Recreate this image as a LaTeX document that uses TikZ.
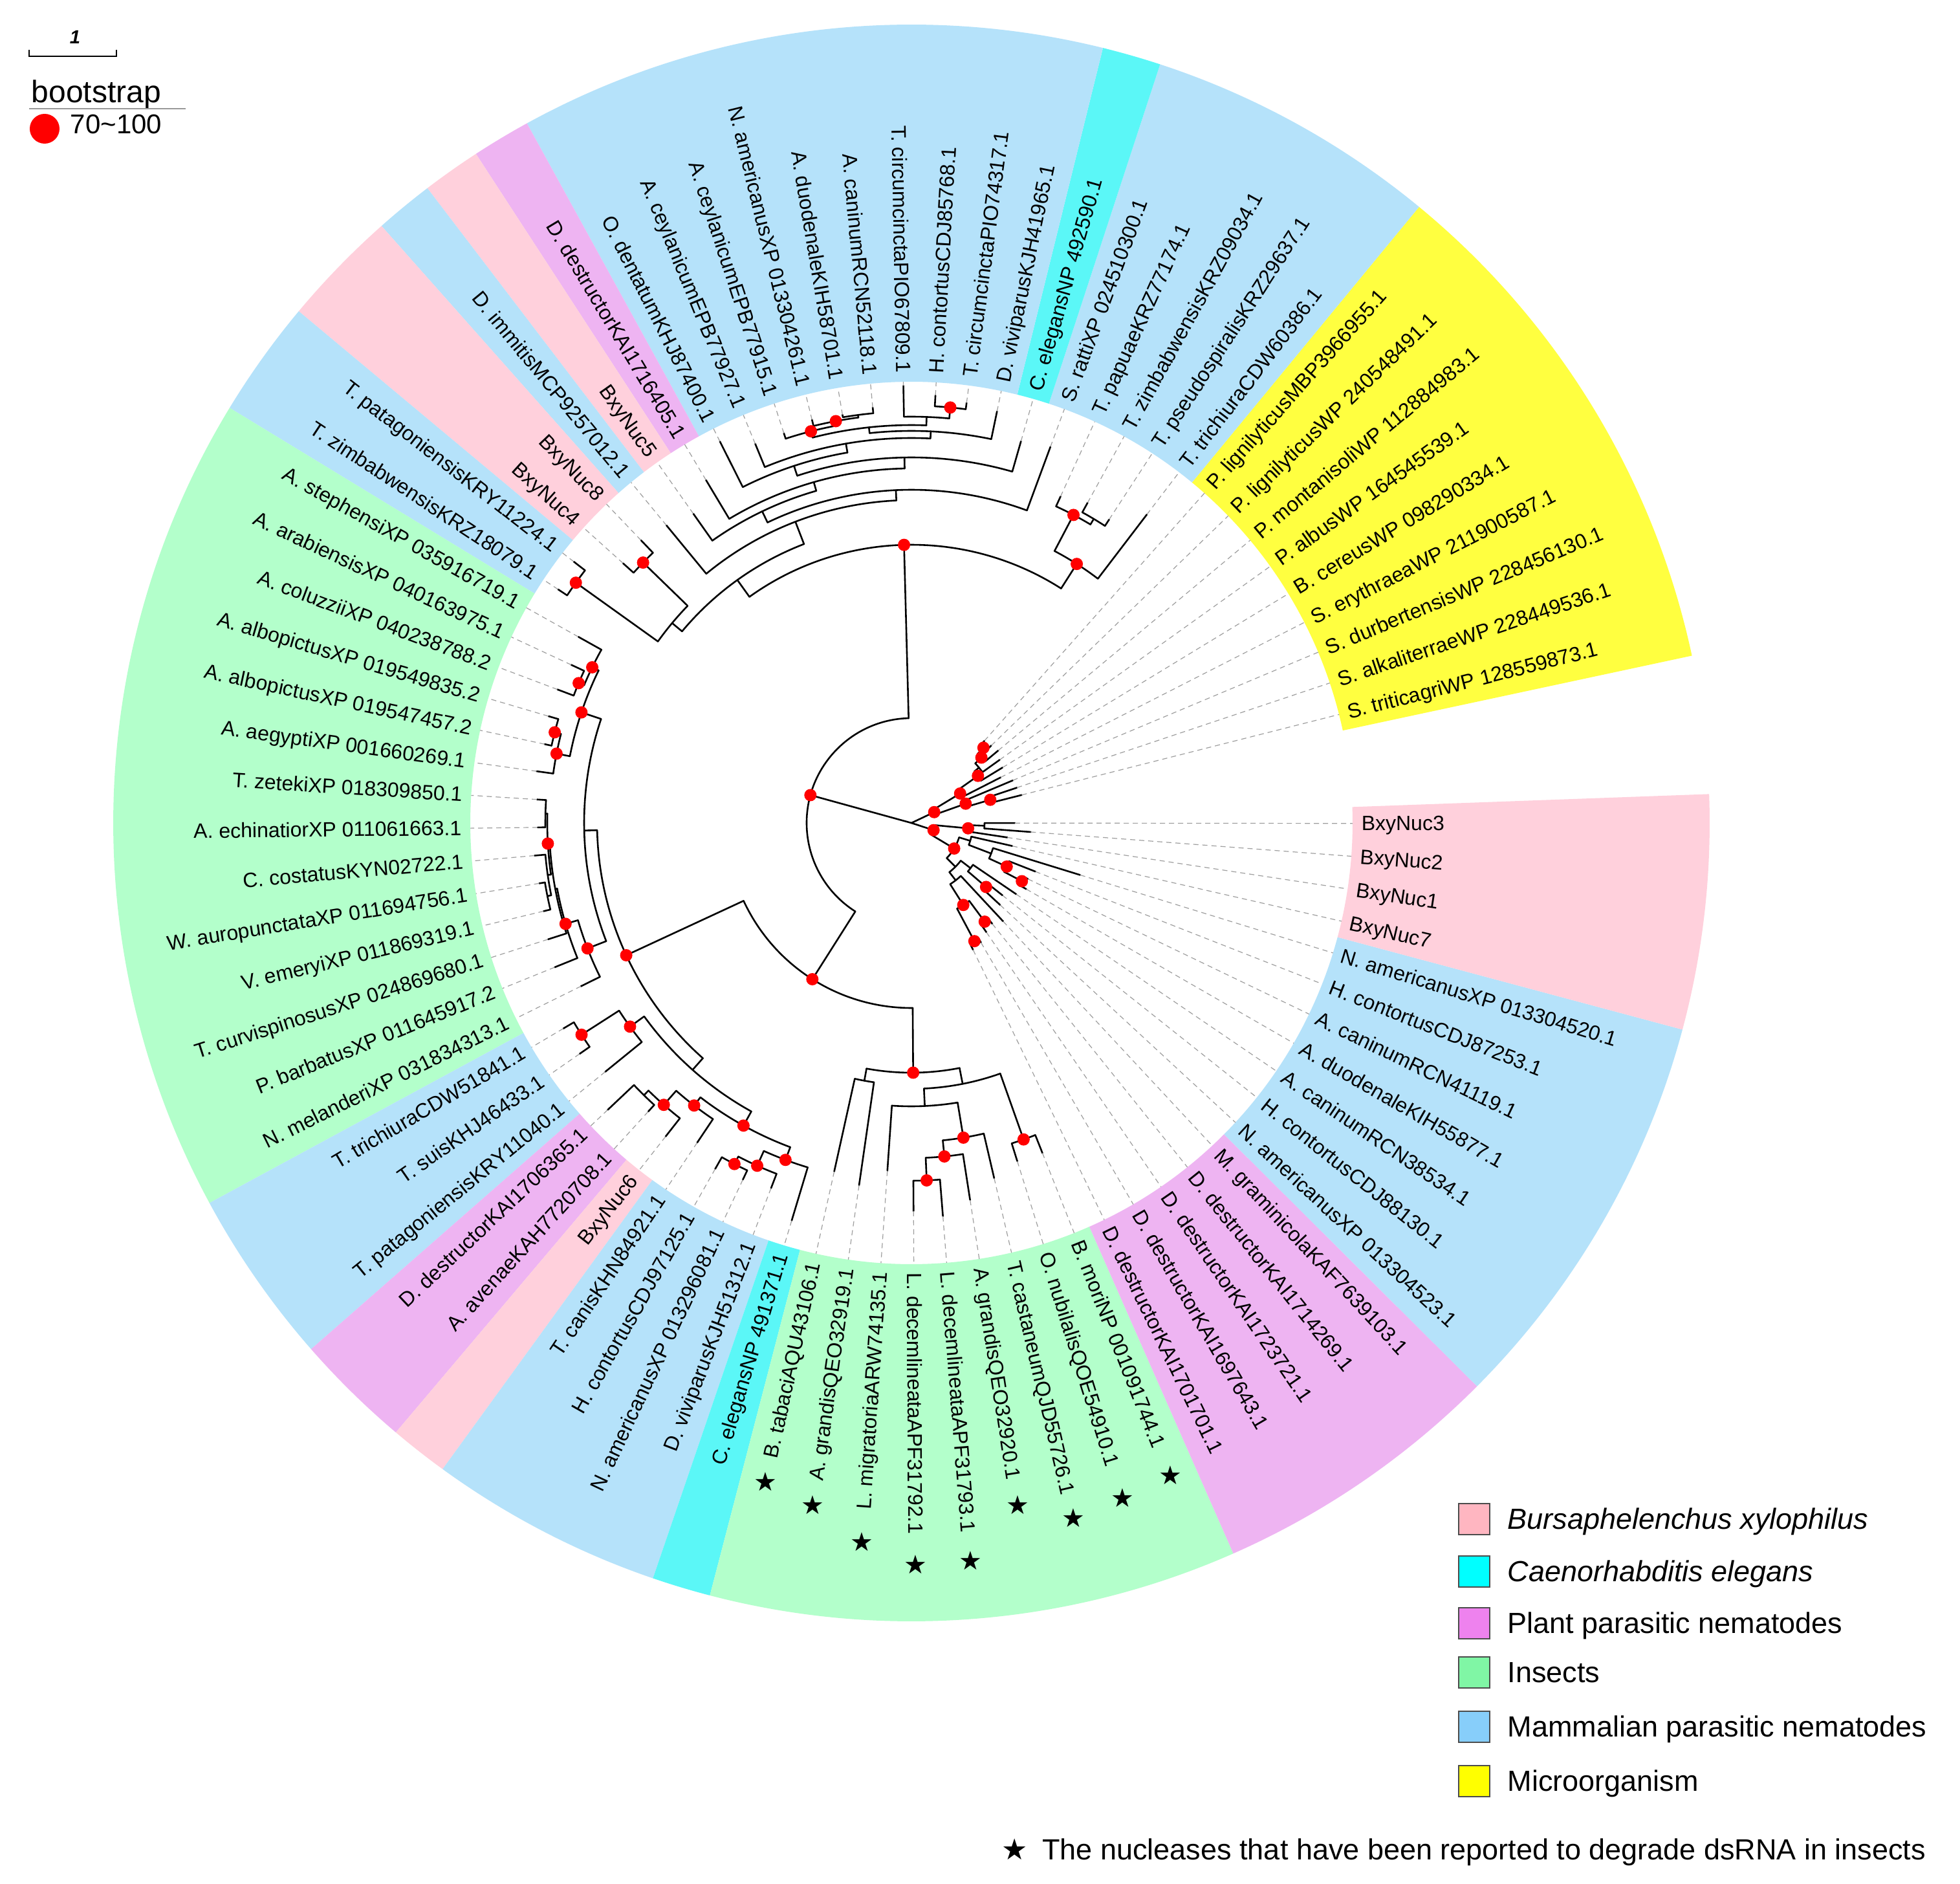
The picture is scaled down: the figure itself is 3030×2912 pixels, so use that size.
\documentclass[tikz,border=0pt]{standalone}
\usepackage{fontspec}
\setmainfont{Liberation Sans}
\newfontfamily\dejavu{DejaVu Sans}
\definecolor{cPink}{HTML}{FFD0DC}
\definecolor{cCyan}{HTML}{5BF7F7}
\definecolor{cMag}{HTML}{EEB4F2}
\definecolor{cGreen}{HTML}{B3FFCB}
\definecolor{cBlue}{HTML}{B5E2FA}
\definecolor{cYel}{HTML}{FFFF40}
\definecolor{lPink}{HTML}{FFB6C1}
\definecolor{lCyan}{HTML}{00FFFF}
\definecolor{lMag}{HTML}{EE82EE}
\definecolor{lGreen}{HTML}{80F6A5}
\definecolor{lBlue}{HTML}{87CEFA}
\definecolor{lYel}{HTML}{FFFF00}
\newcommand\ang[1]{14.23+4.268*(#1)}
\newcommand\nd[5]{\draw[tr] ({\ang{#3}}:#1) -- ({\ang{#3}}:#2);
  \draw[tr] ({\ang{#4}}:#2) arc[start angle={\ang{#4}}, end angle={\ang{#5}}, radius=#2];}
\newcommand\lf[3]{\draw[tr] ({\ang{#3}}:#1) -- ({\ang{#3}}:#2);
  \draw[lead] ({\ang{#3}}:#2) -- ({\ang{#3}}:682);}
\newcommand\dt[2]{\fill[dotc] ({\ang{#2}}:#1) circle[radius=9.5];}
\newcommand\sect[3]{\fill[#1] ({\ang{#2-0.5}}:682) arc[start angle={\ang{#2-0.5}}, end angle={\ang{#3+0.5}}, radius=682]
  -- ({\ang{#3+0.5}}:1234) arc[start angle={\ang{#3+0.5}}, end angle={\ang{#2-0.5}}, radius=1234] -- cycle;}
\newcommand\lab[2]{%
  \pgfmathsetmacro\lbA{14.23+4.268*(#1)}%
  \def\lbS{0}%
  \ifdim\lbA pt>90pt \ifdim\lbA pt<270pt \def\lbS{1}\fi\fi
  \ifnum\lbS=1
    \pgfmathsetmacro\lbR{\lbA-180}%
    \node[lbl, anchor=mid east, rotate=\lbR] (lab#1) at (\lbA:695) {#2};
  \else
    \node[lbl, anchor=mid west, rotate=\lbA] (lab#1) at (\lbA:695) {#2};
  \fi}
\newcommand\st[2]{\node[starn] (star#1) at ({\ang{#1}}:#2) {★};}
\begin{document}
\begin{tikzpicture}[x=0.25pt, y=0.25pt,
  tr/.style={line width=0.65pt, line cap=round, line join=round},
  lead/.style={draw=black!38, line width=0.3pt, dash pattern=on 2pt off 1.5pt},
  dotc/.style={red},
  lbl/.style={font=\fontsize{8}{9.6}\selectfont, inner sep=0pt},
  starn/.style={font=\dejavu\fontsize{10}{12}\selectfont, inner sep=0pt},
  legtxt/.style={font=\fontsize{11.25}{13}\selectfont, inner sep=0pt, anchor=base west},
  legbox/.style={draw=black!70, line width=0.5pt}]
\useasboundingbox (-1409,-1640) rectangle (1621,1272);
\fill[white] (-1409,-1640) rectangle (1621,1272);
% colour ring
\sect{cYel}{0}{8}
\sect{cBlue}{9}{13}
\sect{cCyan}{14}{14}
\sect{cBlue}{15}{24}
\sect{cMag}{25}{25}
\sect{cPink}{26}{26}
\sect{cBlue}{27}{27}
\sect{cPink}{28}{29}
\sect{cBlue}{30}{31}
\sect{cGreen}{32}{45}
\sect{cBlue}{46}{48}
\sect{cMag}{49}{50}
\sect{cPink}{51}{51}
\sect{cBlue}{52}{55}
\sect{cCyan}{56}{56}
\sect{cGreen}{57}{65}
\sect{cMag}{66}{70}
\sect{cBlue}{71}{77}
\sect{cPink}{78}{81}
% tree: A, B
\nd{0}{162}{35.23}{18.11}{52.34}
\nd{162}{430}{18.11}{10.125}{26.1}
\nd{430}{475}{10.125}{9}{11.25}
\lf{475}{600}{9}
\nd{475}{538}{11.25}{10.5}{12}
\nd{538}{548}{10.5}{10}{11}
\lf{548}{560}{10} \lf{548}{565}{11}
\lf{538}{555}{12}
\nd{430}{462}{26.1}{22.69}{29.5}
\nd{462}{482}{29.5}{28.5}{30.5}
\nd{482}{578}{28.5}{28}{29}
\lf{578}{605}{28} \lf{578}{600}{29}
\nd{482}{638}{30.5}{30}{31}
\lf{638}{660}{30} \lf{638}{655}{31}
\nd{462}{499}{22.69}{18.38}{27}
\lf{499}{596}{27}
\nd{499}{515}{18.38}{13}{23.75}
\lf{515}{620}{13}
\nd{515}{534}{23.75}{21.5}{26}
\lf{534}{585}{26}
\nd{534}{548}{21.5}{18.01}{25}
\lf{548}{618}{25}
\nd{548}{565}{18.01}{14}{22.02}
\lf{565}{614}{14}
\nd{565}{581}{22.02}{20.05}{24}
\lf{581}{660}{24}
\nd{581}{595}{20.05}{17.09}{23}
\lf{595}{634}{23}
\nd{595}{606}{17.09}{15}{19.19}
\lf{606}{650}{15}
\nd{606}{615}{19.19}{17.25}{21.125}
\nd{615}{628}{17.25}{16.5}{18}
\nd{628}{645}{16.5}{16}{17}
\lf{645}{655}{16} \lf{645}{662}{17}
\lf{628}{676}{18}
\nd{615}{625}{21.125}{20.25}{22}
\nd{625}{632}{20.25}{19.5}{21}
\nd{632}{636}{19.5}{19}{20}
\lf{636}{645}{19} \lf{636}{640}{20}
\lf{632}{642}{21}
\lf{625}{634}{22}
% C
\nd{162}{286}{52.34}{44.67}{60.02}
\nd{286}{486}{44.67}{39.15}{50.19}
\nd{486}{506}{39.15}{34.5}{43.8}
\nd{506}{538}{34.5}{32.75}{36.25}
\nd{538}{549}{32.75}{32}{33.5}
\lf{549}{590}{32}
\nd{549}{558}{33.5}{33}{34}
\lf{558}{580}{33} \lf{558}{585}{34}
\nd{538}{559}{36.25}{35.5}{37}
\nd{559}{569}{35.5}{35}{36}
\lf{569}{585}{35} \lf{569}{580}{36}
\lf{559}{585}{37}
\nd{506}{537}{43.8}{42.65}{45}
\lf{537}{570}{45}
\nd{537}{557}{42.65}{41.3}{44}
\lf{557}{595}{44}
\nd{557}{560}{41.3}{39.6}{43}
\lf{560}{590}{43}
\nd{560}{563}{39.6}{38.5}{40.75}
\nd{563}{566}{38.5}{38}{39}
\lf{566}{580}{38} \lf{566}{578}{39}
\nd{563}{568}{40.75}{40}{41.5}
\lf{568}{585}{40}
\nd{568}{574}{41.5}{41}{42}
\lf{574}{583}{41} \lf{574}{585}{42}
\nd{486}{510}{50.19}{47.25}{53.125}
\nd{510}{537}{47.25}{46.5}{48}
\nd{537}{606}{46.5}{46}{47}
\lf{606}{625}{46} \lf{606}{625}{47}
\lf{537}{610}{48}
\nd{510}{535}{53.125}{51.125}{55.125}
\nd{535}{551}{51.125}{50.25}{52}
\nd{551}{580}{50.25}{49.5}{51}
\nd{580}{590}{49.5}{49}{50}
\lf{590}{646}{49} \lf{590}{604}{50}
\lf{580}{616}{51}
\lf{551}{595}{52}
\nd{535}{556}{55.125}{54.25}{56}
\nd{556}{581}{54.25}{53.5}{55}
\nd{581}{594}{53.5}{53}{54}
\lf{594}{615}{53} \lf{594}{610}{54}
\lf{581}{605}{55}
\lf{556}{642}{56}
\nd{286}{386}{60.02}{57.5}{62.53}
\nd{386}{405}{57.5}{57}{58}
\lf{405}{552}{57} \lf{405}{566}{58}
\nd{386}{411}{62.53}{60.56}{64.5}
\nd{411}{438}{60.56}{59}{62.125}
\lf{438}{539}{59}
\nd{438}{493}{62.125}{61.25}{63}
\nd{493}{518}{61.25}{60.5}{62}
\nd{518}{553}{60.5}{60}{61}
\lf{553}{600}{60} \lf{553}{610}{61}
\lf{518}{590}{62}
\lf{493}{564}{63}
\nd{411}{519}{64.5}{64}{65}
\lf{519}{548}{64} \lf{519}{549}{65}
% right cluster
\nd{0}{39}{2.61}{1.25}{3.97}
\nd{39}{89}{1.25}{0.5}{2}
\nd{89}{127}{0.5}{0}{1}
\lf{127}{176}{0} \lf{127}{172}{1}
\lf{89}{170}{2}
\nd{39}{88}{3.97}{3}{4.94}
\lf{88}{155}{3}
\nd{88}{126}{4.94}{4}{5.875}
\lf{126}{165}{4}
\nd{126}{135}{5.875}{5}{6.75}
\lf{135}{168}{5}
\nd{135}{148}{6.75}{6}{7.5}
\lf{148}{175}{6}
\nd{148}{161}{7.5}{7}{8}
\lf{161}{172}{7} \lf{161}{170}{8}
\nd{0}{36}{76.77}{73.78}{79.75}
\nd{36}{88}{79.75}{79}{80.5}
\lf{88}{150}{79}
\nd{88}{113}{80.5}{80}{81}
\lf{113}{185}{80} \lf{113}{160}{81}
\nd{36}{77}{73.78}{70.5}{77.06}
\nd{77}{95}{77.06}{76.1}{78}
\lf{95}{160}{78}
\nd{95}{132}{76.1}{75.25}{77}
\lf{132}{273}{77}
\nd{132}{162}{75.25}{74.5}{76}
\lf{162}{206}{76}
\nd{162}{193}{74.5}{74}{75}
\lf{193}{205}{74} \lf{193}{200}{75}
\nd{77}{96}{70.5}{68.75}{72.25}
\nd{96}{112}{68.75}{67.5}{70}
\nd{112}{150}{67.5}{66.5}{68.5}
\nd{150}{207}{66.5}{66}{67}
\lf{207}{218}{66} \lf{207}{214}{67}
\nd{150}{190}{68.5}{68}{69}
\lf{190}{205}{68} \lf{190}{200}{69}
\lf{112}{208}{70}
\nd{96}{115}{72.25}{71.5}{73}
\nd{115}{152}{71.5}{71}{72}
\lf{152}{187}{71} \lf{152}{180}{72}
\lf{115}{196}{73}
% bootstrap dots
\dt{162}{35.23} \dt{430}{18.11} \dt{286}{52.34} \dt{486}{44.67} \dt{386}{60.02}
\dt{475}{10.125} \dt{538}{11.25} \dt{578}{28.5} \dt{638}{30.5}
\dt{625}{21.125} \dt{632}{20.25} \dt{645}{16.5}
\dt{549}{32.75} \dt{558}{33.5} \dt{538}{34.5} \dt{569}{35.5} \dt{559}{36.25}
\dt{563}{39.6} \dt{557}{42.65} \dt{537}{43.8}
\dt{537}{47.25} \dt{606}{46.5} \dt{535}{53.125} \dt{551}{51.125} \dt{580}{50.25}
\dt{556}{55.125} \dt{581}{54.25} \dt{594}{53.5}
\dt{519}{64.5} \dt{493}{62.125} \dt{518}{61.25} \dt{553}{60.5}
\dt{39}{2.61} \dt{88}{3.97} \dt{126}{4.94} \dt{148}{6.75} \dt{161}{7.5} \dt{89}{1.25} \dt{127}{0.5}
\dt{36}{76.77} \dt{88}{79.75} \dt{77}{73.78} \dt{162}{75.25} \dt{193}{74.5}
\dt{150}{67.5} \dt{207}{66.5} \dt{190}{68.5} \dt{152}{71.5}
% labels
\lab{0}{S. triticagriWP 128559873.1}
\lab{1}{S. alkaliterraeWP 228449536.1}
\lab{2}{S. durbertensisWP 228456130.1}
\lab{3}{S. erythraeaWP 211900587.1}
\lab{4}{B. cereusWP 098290334.1}
\lab{5}{P. albusWP 164545539.1}
\lab{6}{P. montanisoliWP 112884983.1}
\lab{7}{P. lignilyticusWP 240548491.1}
\lab{8}{P. lignilyticusMBP3966955.1}
\lab{9}{T. trichiuraCDW60386.1}
\lab{10}{T. pseudospiralisKRZ29637.1}
\lab{11}{T. zimbabwensisKRZ09034.1}
\lab{12}{T. papuaeKRZ77174.1}
\lab{13}{S. rattiXP 024510300.1}
\lab{14}{C. elegansNP 492590.1}
\lab{15}{D. viviparusKJH41965.1}
\lab{16}{T. circumcinctaPIO74317.1}
\lab{17}{H. contortusCDJ85768.1}
\lab{18}{T. circumcinctaPIO67809.1}
\lab{19}{A. caninumRCN52118.1}
\lab{20}{A. duodenaleKIH58701.1}
\lab{21}{N. americanusXP 013304261.1}
\lab{22}{A. ceylanicumEPB77915.1}
\lab{23}{A. ceylanicumEPB77927.1}
\lab{24}{O. dentatumKHJ87400.1}
\lab{25}{D. destructorKAI1716405.1}
\lab{26}{BxyNuc5}
\lab{27}{D. immitisMCP9257012.1}
\lab{28}{BxyNuc8}
\lab{29}{BxyNuc4}
\lab{30}{T. patagoniensisKRY11224.1}
\lab{31}{T. zimbabwensisKRZ18079.1}
\lab{32}{A. stephensiXP 035916719.1}
\lab{33}{A. arabiensisXP 040163975.1}
\lab{34}{A. coluzziiXP 040238788.2}
\lab{35}{A. albopictusXP 019549835.2}
\lab{36}{A. albopictusXP 019547457.2}
\lab{37}{A. aegyptiXP 001660269.1}
\lab{38}{T. zetekiXP 018309850.1}
\lab{39}{A. echinatiorXP 011061663.1}
\lab{40}{C. costatusKYN02722.1}
\lab{41}{W. auropunctataXP 011694756.1}
\lab{42}{V. emeryiXP 011869319.1}
\lab{43}{T. curvispinosusXP 024869680.1}
\lab{44}{P. barbatusXP 011645917.2}
\lab{45}{N. melanderiXP 031834313.1}
\lab{46}{T. trichiuraCDW51841.1}
\lab{47}{T. suisKHJ46433.1}
\lab{48}{T. patagoniensisKRY11040.1}
\lab{49}{D. destructorKAI1706365.1}
\lab{50}{A. avenaeKAH7720708.1}
\lab{51}{BxyNuc6}
\lab{52}{T. canisKHN84921.1}
\lab{53}{H. contortusCDJ97125.1}
\lab{54}{N. americanusXP 013296081.1}
\lab{55}{D. viviparusKJH51312.1}
\lab{56}{C. elegansNP 491371.1}
\lab{57}{B. tabaciAQU43106.1}
\lab{58}{A. grandisQEO32919.1}
\lab{59}{L. migratoriaARW74135.1}
\lab{60}{L. decemlineataAPF31792.1}
\lab{61}{L. decemlineataAPF31793.1}
\lab{62}{A. grandisQEO32920.1}
\lab{63}{T. castaneumQJD55726.1}
\lab{64}{O. nubilalisQOE54910.1}
\lab{65}{B. moriNP 001091744.1}
\lab{66}{D. destructorKAI1701701.1}
\lab{67}{D. destructorKAI1697643.1}
\lab{68}{D. destructorKAI1723721.1}
\lab{69}{D. destructorKAI1714269.1}
\lab{70}{M. graminicolaKAF7639103.1}
\lab{71}{N. americanusXP 013304523.1}
\lab{72}{H. contortusCDJ88130.1}
\lab{73}{A. caninumRCN38534.1}
\lab{74}{A. duodenaleKIH55877.1}
\lab{75}{A. caninumRCN41119.1}
\lab{76}{H. contortusCDJ87253.1}
\lab{77}{N. americanusXP 013304520.1}
\lab{78}{BxyNuc7}
\lab{79}{BxyNuc1}
\lab{80}{BxyNuc2}
\lab{81}{BxyNuc3}
% stars
\st{57}{1043} \st{58}{1065} \st{59}{1114} \st{60}{1146} \st{61}{1144}
\st{62}{1067} \st{63}{1103} \st{64}{1093} \st{65}{1085}
% scale bar and bootstrap legend
\node[font=\bfseries\itshape\fontsize{7.3}{8}\selectfont, inner sep=0pt] (scaleone) at (-1293,1214.5) {1};
\draw[line width=0.55pt] (-1364,1195) -- (-1364,1185) -- (-1229,1185) -- (-1229,1195);
\node[anchor=base west, inner sep=0pt, font=\fontsize{12}{14}\selectfont] (bstitle) at (-1361,1113) {bootstrap};
\draw[black!40, line width=0.5pt] (-1364,1104) -- (-1122,1104);
\fill[red] (-1340,1073) circle[radius=23];
\node[anchor=base west, inner sep=0pt, font=\fontsize{10.5}{12}\selectfont] (bsrange) at (-1301,1065) {70\textasciitilde 100};
% group legend
\filldraw[legbox, fill=lPink] (846,-1099.5) rectangle (894,-1051.5);
\node[legtxt] (legA) at (921,-1091) {\itshape Bursaphelenchus xylophilus};
\filldraw[legbox, fill=lCyan] (846,-1181) rectangle (894,-1133);
\node[legtxt] (legB) at (921,-1172.5) {\itshape Caenorhabditis elegans};
\filldraw[legbox, fill=lMag] (846,-1261) rectangle (894,-1213);
\node[legtxt] (legC) at (921,-1252.5) {Plant parasitic nematodes};
\filldraw[legbox, fill=lGreen] (846,-1336.5) rectangle (894,-1288.5);
\node[legtxt] (legD) at (921,-1328) {Insects};
\filldraw[legbox, fill=lBlue] (846,-1420.5) rectangle (894,-1372.5);
\node[legtxt] (legE) at (921,-1412) {Mammalian parasitic nematodes};
\filldraw[legbox, fill=lYel] (846,-1505) rectangle (894,-1457);
\node[legtxt] (legF) at (921,-1496.5) {Microorganism};
\node[anchor=base east, inner sep=0pt, font=\fontsize{11.25}{13}\selectfont] (note) at (1569,-1602)
  {{\dejavu ★}\hspace{0.5em}The nucleases that have been reported to degrade dsRNA in insects};
\end{tikzpicture}
\end{document}
